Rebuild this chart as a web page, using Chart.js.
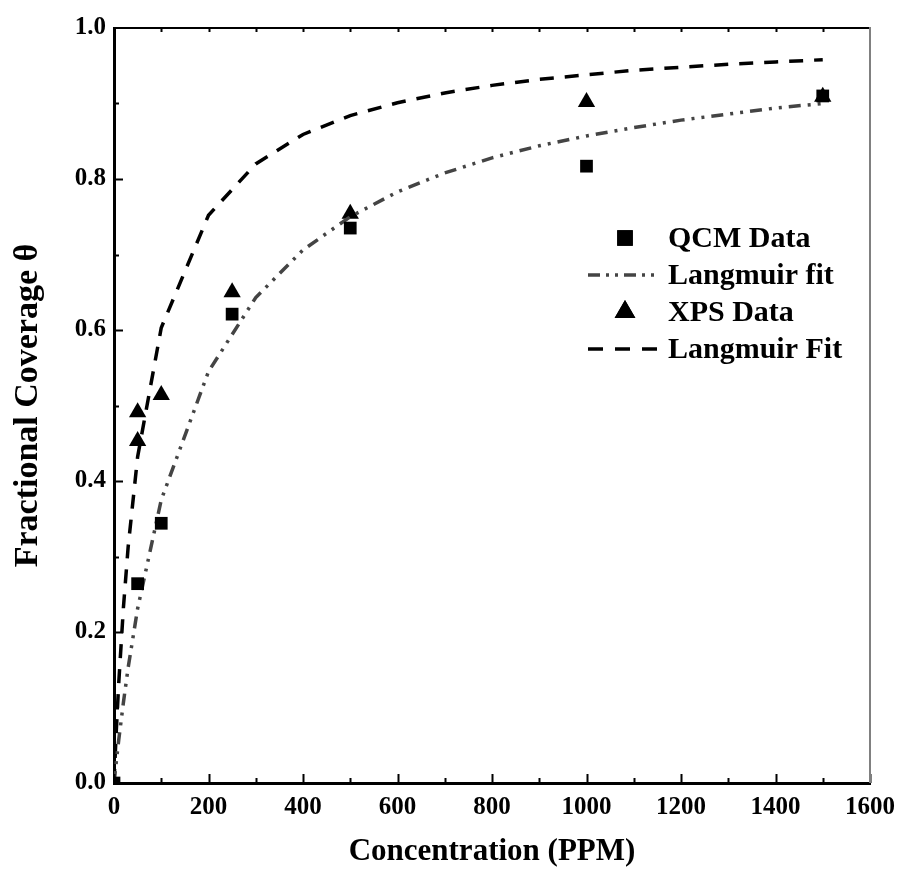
<!DOCTYPE html>
<html>
<head>
<meta charset="utf-8">
<script src="https://cdn.jsdelivr.net/npm/chart.js@4.4.1/dist/chart.umd.min.js"></script>
<style>
html, body { margin: 0; padding: 0; background: #fff; }
</style>
</head>
<body>
<canvas id="chart" width="900" height="869"></canvas>
<script>
// measured points
const qcmX = [0, 50, 100, 250, 500, 1000, 1500];
const qcmY = [0.0, 0.264, 0.344, 0.621, 0.735, 0.817, 0.91];
const xpsX = [50, 50, 100, 250, 500, 1000, 1500];
const xpsY = [0.453, 0.491, 0.514, 0.65, 0.754, 0.902, 0.909];

// fitted curves
const fitX = [0, 5, 10, 20, 30, 50, 100, 200, 300, 400, 500, 600, 700, 800, 900, 1000, 1100, 1200, 1300, 1400, 1500];
const qcmFitY = [0, 0.029, 0.057, 0.107, 0.153, 0.231, 0.375, 0.545, 0.643, 0.706, 0.75, 0.783, 0.808, 0.828, 0.844, 0.857, 0.868, 0.878, 0.886, 0.894, 0.9];
const xpsFitY = [0, 0.071, 0.132, 0.233, 0.313, 0.432, 0.603, 0.752, 0.82, 0.859, 0.884, 0.901, 0.914, 0.924, 0.932, 0.938, 0.944, 0.948, 0.952, 0.955, 0.958];

const xTicks = [0, 200, 400, 600, 800, 1000, 1200, 1400, 1600];
const yTicks = [0.0, 0.2, 0.4, 0.6, 0.8, 1.0];

const serif = "'Liberation Serif', 'Times New Roman', serif";

function pts(xs, ys) {
    return xs.map((v, i) => ({ x: v, y: ys[i] }));
}

// inward ticks, top and right frame
const frame = {
    id: 'frame',
    afterDatasetsDraw(chart) {
        const { ctx, chartArea: a, scales: { x, y } } = chart;
        ctx.save();
        ctx.strokeStyle = '#000';
        ctx.lineWidth = 2;
        ctx.beginPath();
        ctx.moveTo(a.left, a.top);
        ctx.lineTo(a.right, a.top);
        for (let v = 0; v <= 1600; v += 100) {
            const px = Math.round(x.getPixelForValue(v)) + 0.5;
            const len = xTicks.includes(v) ? 9 : 5;
            ctx.moveTo(px, a.bottom);
            ctx.lineTo(px, a.bottom - len);
            if (v > 0 && v < 1600) {
                ctx.moveTo(px, a.top);
                ctx.lineTo(px, a.top + 4);
            }
        }
        for (let i = 1; i < 10; i++) {
            const py = Math.round(y.getPixelForValue(i / 10)) + 0.5;
            const len = i % 2 === 0 ? 9 : 5;
            ctx.moveTo(a.left, py);
            ctx.lineTo(a.left + len, py);
        }
        ctx.stroke();
        ctx.strokeStyle = '#808080';
        ctx.beginPath();
        ctx.moveTo(a.right, a.top - 1);
        ctx.lineTo(a.right, a.bottom);
        ctx.stroke();
        ctx.restore();
    }
};

// legend inside the plot
const innerLegend = {
    id: 'innerLegend',
    afterDraw(chart) {
        const ctx = chart.ctx;
        const rows = [238, 275, 312, 349];
        ctx.save();
        chart.data.datasets.forEach((ds, i) => {
            const yy = rows[i];
            if (ds.showLine) {
                ctx.strokeStyle = ds.borderColor;
                ctx.lineWidth = ds.borderWidth;
                ctx.setLineDash(ds.legendDash);
                ctx.beginPath();
                ctx.moveTo(588, yy);
                ctx.lineTo(658, yy);
                ctx.stroke();
                ctx.setLineDash([]);
            } else {
                Chart.helpers.drawPoint(ctx, {
                    pointStyle: ds.pointStyle,
                    radius: ds.pointRadius + 2,
                    borderWidth: 0,
                    rotation: 0
                }, 625, yy);
                ctx.fillStyle = '#000';
                ctx.fill();
            }
            ctx.fillStyle = '#000';
            ctx.font = 'bold 30px ' + serif;
            ctx.textBaseline = 'middle';
            ctx.textAlign = 'left';
            ctx.fillText(ds.label, 668, yy + 1);
        });
        ctx.restore();
    }
};

new Chart(document.getElementById('chart'), {
    type: 'scatter',
    data: {
        datasets: [
            {
                label: 'QCM Data',
                data: pts(qcmX, qcmY),
                pointStyle: 'rect',
                pointRadius: 9,
                backgroundColor: '#000',
                borderWidth: 0,
                showLine: false
            },
            {
                label: 'Langmuir fit',
                data: pts(fitX, qcmFitY),
                showLine: true,
                pointRadius: 0,
                borderColor: '#444',
                borderWidth: 3.5,
                borderDash: [12, 7, 3, 7, 3, 7],
                legendDash: [12, 6, 3, 6, 3, 6],
                tension: 0
            },
            {
                label: 'XPS Data',
                data: pts(xpsX, xpsY),
                pointStyle: 'triangle',
                pointRadius: 10,
                backgroundColor: '#000',
                borderWidth: 0,
                showLine: false
            },
            {
                label: 'Langmuir Fit',
                data: pts(fitX, xpsFitY),
                showLine: true,
                pointRadius: 0,
                borderColor: '#000',
                borderWidth: 3.5,
                borderDash: [14, 11],
                legendDash: [15, 12],
                tension: 0
            }
        ]
    },
    options: {
        responsive: false,
        animation: false,
        layout: {
            padding: { top: 28, right: 30, left: 0, bottom: 0 }
        },
        plugins: {
            legend: { display: false },
            tooltip: { enabled: false }
        },
        scales: {
            x: {
                type: 'linear',
                min: 0,
                max: 1600,
                afterFit: s => {
                    s.height = 86;
                    s.paddingLeft = 0;
                    s.paddingRight = 0;
                },
                afterBuildTicks: s => { s.ticks = xTicks.map(v => ({ value: v })); },
                grid: { display: false, drawTicks: false },
                border: { display: true, color: '#000', width: 3 },
                ticks: {
                    color: '#000',
                    padding: 10,
                    font: { family: serif, size: 25, weight: 'bold' },
                    callback: v => String(v)
                },
                title: {
                    display: true,
                    text: 'Concentration (PPM)',
                    color: '#000',
                    padding: { top: 0, bottom: 2 },
                    font: { family: serif, size: 31, weight: 'bold', lineHeight: 1 }
                }
            },
            y: {
                type: 'linear',
                min: 0,
                max: 1,
                afterFit: s => { s.width = 114; },
                afterBuildTicks: s => { s.ticks = yTicks.map(v => ({ value: v })); },
                grid: { display: false, drawTicks: false },
                border: { display: true, color: '#000', width: 3 },
                ticks: {
                    color: '#000',
                    padding: 8,
                    font: { family: serif, size: 25, weight: 'bold' },
                    callback: v => v.toFixed(1)
                },
                title: {
                    display: true,
                    text: 'Fractional Coverage θ',
                    color: '#000',
                    padding: { top: 11, bottom: 0 },
                    font: { family: serif, size: 34, weight: 'bold', lineHeight: 1 }
                }
            }
        }
    },
    plugins: [frame, innerLegend]
});
</script>
</body>
</html>
